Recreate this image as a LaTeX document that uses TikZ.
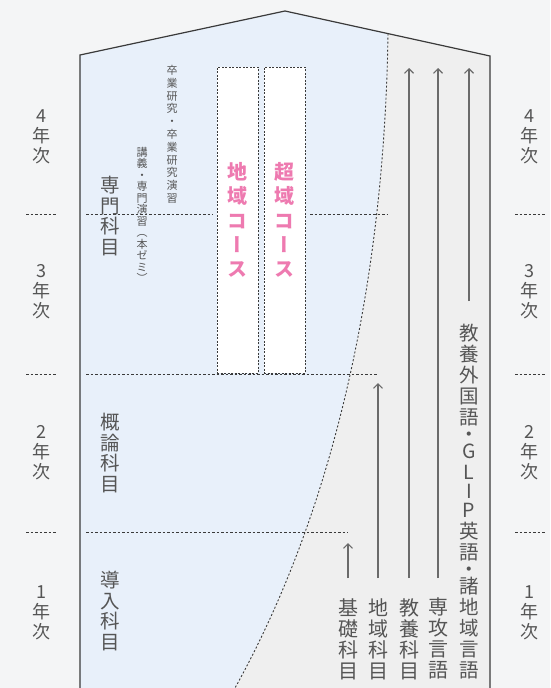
\documentclass[tikz,border=0pt]{standalone}
\usepackage{fontspec}
\usetikzlibrary{arrows.meta}
\newfontfamily\cjk{Noto Sans CJK JP}
\newfontfamily\cjkv[RawFeature=+vert]{Noto Sans CJK JP}
\definecolor{bgc}{HTML}{F4F5F6}
\definecolor{bluef}{HTML}{E8F0FA}
\definecolor{grayf}{HTML}{EFEFEF}
\definecolor{txt}{HTML}{555555}
\definecolor{dk}{HTML}{3A3A3A}
\definecolor{arrc}{HTML}{6A6A6A}
\definecolor{pinkc}{HTML}{EE7AB0}
\begin{document}
\begin{tikzpicture}[x=1pt,y=-1pt,
  yr/.style={font=\cjk\fontsize{18}{20}\selectfont, text=txt, align=center, inner sep=0pt},
  subj/.style={font=\cjk\fontsize{19.5}{20.8}\selectfont, text=txt, align=center, inner sep=0pt},
  smA/.style={font=\cjkv\fontsize{11}{12.8}\selectfont, text=txt, align=center, inner sep=0pt, anchor=north},
  smB/.style={font=\cjkv\fontsize{11}{11.5}\selectfont, text=txt, align=center, inner sep=0pt, anchor=north},
  lbl/.style={font=\cjk\fontsize{20}{21}\selectfont, text=txt, align=center, inner sep=0pt, anchor=north},
  lblL/.style={font=\cjk\fontsize{19.5}{21}\selectfont, text=txt, align=center, inner sep=0pt, anchor=north},
  cbox/.style={draw=dk, fill=white, dash pattern=on 2pt off 1.5pt, line width=0.9pt,
    minimum width=41pt, minimum height=306pt, inner sep=0pt, align=center,
    font=\cjkv\bfseries\fontsize{20}{24.2}\selectfont, text=pinkc},
  dsh/.style={draw=dk, dash pattern=on 2.5pt off 2pt, line width=0.8pt},
  dotc/.style={draw=dk, dash pattern=on 2pt off 2pt, line width=0.9pt},
  outl/.style={draw=dk, line width=1.2pt, line join=miter},
  arr/.style={draw=arrc, line width=1.4pt, -{Straight Barb[length=4.5pt,width=9pt,line width=1.1pt]}}
]
\useasboundingbox (0,0) rectangle (550,688);
\fill[bgc] (0,0) rectangle (550,688);
% regions
\fill[bluef] (80,688) -- (80,55) -- (285,11) -- (388,33.6) .. controls (385,250) and (345,490) .. (235,688) -- cycle;
\fill[grayf] (388,33.6) -- (490,56) -- (490,688) -- (235,688) .. controls (345,490) and (385,250) .. (388,33.6) -- cycle;
\draw[dotc] (388,33.6) .. controls (385,250) and (345,490) .. (235,688);
% year dividers inside
\draw[dsh] (86,214) -- (213,214);
\draw[dsh] (310,214) -- (387,214);
\draw[dsh] (86,374) -- (378,374);
\draw[dsh] (86,532) -- (348,532);
% side dividers
\foreach \yy in {214,374,532} {
  \draw[dsh] (26,\yy) -- (57,\yy);
  \draw[dsh] (515,\yy) -- (546,\yy);
}
% outline
\draw[outl] (80,688) -- (80,55) -- (285,11) -- (490,56) -- (490,688);
% year labels
\node[yr] (yl4) at (41,137) {4\\年\\次};
\node[yr] (yl3) at (41,292) {3\\年\\次};
\node[yr] (yl2) at (41,453) {2\\年\\次};
\node[yr] (yl1) at (41,613) {1\\年\\次};
\node[yr] (yr4) at (529,137) {4\\年\\次};
\node[yr] (yr3) at (529,292) {3\\年\\次};
\node[yr] (yr2) at (529,453) {2\\年\\次};
\node[yr] (yr1) at (529,613) {1\\年\\次};
% subject groups
\node[subj] (senmon) at (110,216) {専\\門\\科\\目};
\node[subj] (gairon) at (110,453) {概\\論\\科\\目};
\node[subj] (dounyu) at (110,611) {導\\入\\科\\目};
\node[smA] (sotsu) at (172,65) {卒\\業\\研\\究\\・\\卒\\業\\研\\究\\演\\習};
\node[smB] (kougi) at (142,147) {講\\義\\・\\専\\門\\演\\習\\（\\本\\ゼ\\ミ\\）};
% course boxes
\node[cbox] (chiikiC) at (237.5,220) {地\\域\\コ\\ー\\ス};
\node[cbox] (chouikiC) at (284.5,220) {超\\域\\コ\\ー\\ス};
% arrows and labels
\coordinate (kisoT) at (348,543);
\coordinate (chiikiT) at (378,383);
\coordinate (kyoyoT) at (409,68);
\coordinate (senkoT) at (438,68);
\coordinate (gaiT) at (469,68);
\node[lbl] (kiso) at (348,598) {基\\礎\\科\\目};
\node[lbl] (chiiki) at (378,598) {地\\域\\科\\目};
\node[lbl] (kyoyo) at (409,598) {教\\養\\科\\目};
\node[lbl] (senko) at (438,598) {専\\攻\\言\\語};
\node[lblL] (gai) at (469,324) {教\\養\\外\\国\\語\\[-4pt]・\\[-4pt]G\\L\\[-2pt]I\\[-2pt]P\\英\\語\\[-4pt]・\\[-4pt]諸\\地\\域\\言\\語};
\draw[arr] ([yshift=20pt]kiso.north) -- (kisoT);
\draw[arr] ([yshift=20pt]chiiki.north) -- (chiikiT);
\draw[arr] ([yshift=20pt]kyoyo.north) -- (kyoyoT);
\draw[arr] ([yshift=20pt]senko.north) -- (senkoT);
\draw[arr] ([yshift=23pt]gai.north) -- (gaiT);
\end{tikzpicture}
\end{document}
